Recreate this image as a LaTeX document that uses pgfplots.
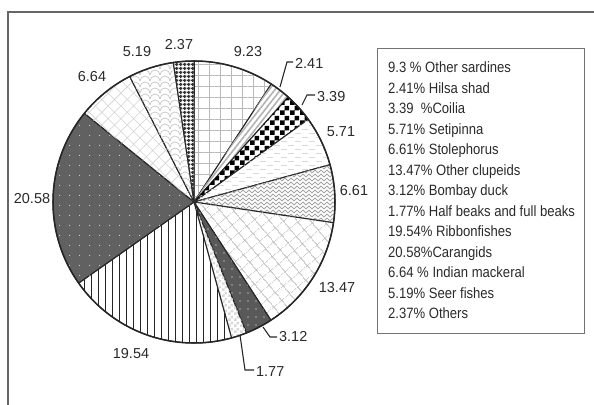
\documentclass[border=0pt]{standalone}
\usepackage{pgfplots}
\pgfplotsset{compat=1.18}
\usepackage{fontspec}
\setmainfont{Liberation Sans}
\usetikzlibrary{patterns,patterns.meta}

\pgfdeclarepatternformonly{mycheck}{\pgfqpoint{0bp}{0bp}}{\pgfqpoint{10bp}{10bp}}{\pgfqpoint{10bp}{10bp}}{%
  \pgfpathrectangle{\pgfqpoint{0bp}{0bp}}{\pgfqpoint{5bp}{5bp}}%
  \pgfpathrectangle{\pgfqpoint{5bp}{5bp}}{\pgfqpoint{5bp}{5bp}}%
  \pgfusepath{fill}}
\pgfdeclarepatternformonly{smallcheck}{\pgfqpoint{0bp}{0bp}}{\pgfqpoint{6bp}{6bp}}{\pgfqpoint{6bp}{6bp}}{%
  \pgfpathrectangle{\pgfqpoint{0bp}{0bp}}{\pgfqpoint{3bp}{3bp}}%
  \pgfpathrectangle{\pgfqpoint{3bp}{3bp}}{\pgfqpoint{3bp}{3bp}}%
  \pgfusepath{fill}}
\pgfdeclarepatternformonly{zigzag}{\pgfqpoint{-1bp}{-1bp}}{\pgfqpoint{7bp}{5bp}}{\pgfqpoint{6bp}{4bp}}{%
  \pgfsetlinewidth{0.8bp}%
  \pgfpathmoveto{\pgfqpoint{0bp}{0bp}}\pgfpathlineto{\pgfqpoint{3bp}{3bp}}\pgfpathlineto{\pgfqpoint{6bp}{0bp}}%
  \pgfusepath{stroke}}
\pgfdeclarepatternformonly{hdash}{\pgfqpoint{0bp}{-1bp}}{\pgfqpoint{14bp}{8bp}}{\pgfqpoint{14bp}{8bp}}{%
  \pgfsetlinewidth{0.8bp}%
  \pgfpathmoveto{\pgfqpoint{1bp}{0bp}}\pgfpathlineto{\pgfqpoint{7bp}{0bp}}%
  \pgfpathmoveto{\pgfqpoint{8bp}{4bp}}\pgfpathlineto{\pgfqpoint{14bp}{4bp}}%
  \pgfusepath{stroke}}
\pgfdeclarepatternformonly{scales}{\pgfqpoint{-1bp}{-1bp}}{\pgfqpoint{11bp}{7bp}}{\pgfqpoint{10bp}{6bp}}{%
  \pgfsetlinewidth{0.7bp}%
  \pgfpathmoveto{\pgfqpoint{0bp}{0bp}}\pgfpatharc{180}{0}{5bp}%
  \pgfusepath{stroke}}

\definecolor{txt}{HTML}{2A2A2A}
\tikzset{
  slice/.style={draw=black!85, line width=1.1bp, line join=round},
  lbl/.style={font=\fontsize{14.5}{16}\selectfont, text=txt, inner sep=0pt},
  leg/.style={font=\fontsize{15}{17}\selectfont, text=txt, inner sep=0pt, anchor=base west, xscale=0.875, transform shape}}

\def\cum{0}
\newcommand\slice[2]{%
  \pgfmathsetmacro\sa{90-3.6*\cum}%
  \pgfmathsetmacro\ea{90-3.6*(\cum+#1)}%
  \pgfmathsetmacro\cum{\cum+#1}%
  \edef\tmp{\noexpand\draw[slice,#2] (axis cs:194,-202) -- ++(\sa:141bp) arc[start angle=\sa, end angle=\ea, radius=141bp] -- cycle;}%
  \tmp}

\begin{document}
\begin{tikzpicture}
\useasboundingbox (0,0) rectangle (594bp,405bp);
\begin{axis}[x=1bp, y=1bp, xmin=0, xmax=594, ymin=-405, ymax=0,
  hide axis, clip=false]
% outer frame
\draw[black!60, line width=1.2bp] (axis cs:8,-405) -- (axis cs:8,-12) -- (axis cs:594,-12);
% slices (percent values, clockwise from 12 o'clock)
\slice{9.23}{fill=white, postaction={pattern={Hatch[distance=11bp, line width=0.5bp]}, pattern color=gray!55}}
\slice{2.41}{fill=white, postaction={pattern={Lines[angle=52, distance=4.5bp, line width=1.6bp]}, pattern color=gray!60}}
\slice{3.39}{fill=white, postaction={pattern=mycheck, pattern color=black}}
\slice{5.71}{fill=white, postaction={pattern=hdash, pattern color=gray!30}}
\slice{6.61}{fill=white, postaction={pattern=zigzag, pattern color=gray!70}}
\slice{13.47}{fill=white, postaction={pattern={Hatch[angle=40, distance=10bp, line width=0.7bp]}, pattern color=gray!55}}
\slice{3.12}{fill=black!65, postaction={pattern={Dots[distance=8bp, radius=0.6bp]}, pattern color=white}}
\slice{1.77}{fill=white, postaction={pattern=smallcheck, pattern color=gray!30}}
\slice{19.54}{fill=white, postaction={pattern={Lines[angle=90, distance=7bp, line width=0.8bp]}, pattern color=black!85}}
\slice{20.58}{fill=black!62, postaction={pattern={Dots[distance=10bp, radius=0.7bp]}, pattern color=gray!35}}
\slice{6.64}{fill=white, postaction={pattern={Hatch[angle=45, distance=9bp, line width=0.6bp]}, pattern color=gray!35}}
\slice{5.19}{fill=white, postaction={pattern=scales, pattern color=gray!45}}
\slice{2.37}{fill=white, postaction={pattern={Hatch[distance=3.6bp, line width=1.4bp]}, pattern color=black!80}}
\draw[black!85, line width=1.5bp] (axis cs:194,-202) circle[radius=141bp];
% labels
\node[lbl] at (axis cs:248,-52) {9.23};
\node[lbl] at (axis cs:341,-132) {5.71};
\node[lbl] at (axis cs:354,-191) {6.61};
\node[lbl] at (axis cs:337,-288) {13.47};
\node[lbl] at (axis cs:131,-354) {19.54};
\node[lbl] at (axis cs:32,-199) {20.58};
\node[lbl] at (axis cs:92,-77) {6.64};
\node[lbl] at (axis cs:137,-52) {5.19};
\node[lbl] at (axis cs:179,-45) {2.37};
\draw[black!85, line width=1.1bp] (axis cs:280,-87) -- (axis cs:287,-62) -- (axis cs:293,-62);
\node[lbl, anchor=west] at (axis cs:295,-63) {2.41};
\draw[black!85, line width=1.1bp] (axis cs:302,-105) -- (axis cs:307,-95) -- (axis cs:315,-95);
\node[lbl, anchor=west] at (axis cs:317,-97) {3.39};
\draw[black!85, line width=1.1bp] (axis cs:263,-327) -- (axis cs:270,-337) -- (axis cs:277,-337);
\node[lbl, anchor=west] at (axis cs:279,-337) {3.12};
\draw[black!85, line width=1.1bp] (axis cs:240,-335) -- (axis cs:245,-370) -- (axis cs:254,-370);
\node[lbl, anchor=west] at (axis cs:256,-372) {1.77};
% legend box
\draw[black!55, line width=1bp] (axis cs:377,-49) rectangle (axis cs:584,-334);
\node[leg] at (axis cs:388,-72.8) {9.3 \% Other sardines};
\node[leg] at (axis cs:388,-93.3) {2.41\% Hilsa shad};
\node[leg] at (axis cs:388,-113.8) {3.39 \ \%Coilia};
\node[leg] at (axis cs:388,-134.3) {5.71\% Setipinna};
\node[leg] at (axis cs:388,-154.8) {6.61\% Stolephorus};
\node[leg] at (axis cs:388,-175.3) {13.47\% Other clupeids};
\node[leg] at (axis cs:388,-195.8) {3.12\% Bombay duck};
\node[leg] at (axis cs:388,-216.3) {1.77\% Half beaks and full beaks};
\node[leg] at (axis cs:388,-236.8) {19.54\% Ribbonfishes};
\node[leg] at (axis cs:388,-257.3) {20.58\%Carangids};
\node[leg] at (axis cs:388,-277.8) {6.64 \% Indian mackeral};
\node[leg] at (axis cs:388,-298.3) {5.19\% Seer fishes};
\node[leg] at (axis cs:388,-318.8) {2.37\% Others};
\end{axis}
\end{tikzpicture}
\end{document}
